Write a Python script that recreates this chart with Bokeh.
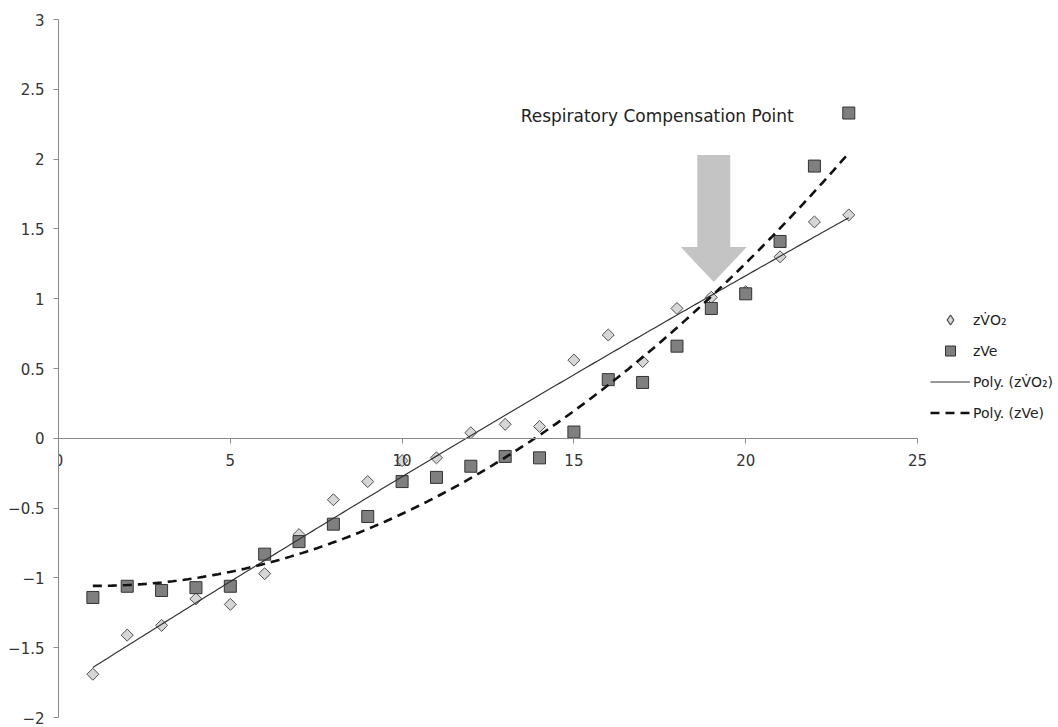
import numpy as np
from bokeh.plotting import figure
from bokeh.models import Range1d, FixedTicker, Legend, LegendItem, Label
from bokeh.embed import file_html
from bokeh.resources import INLINE

# ---- data ----
stage = list(range(1, 24))
z_vo2 = [-1.69, -1.41, -1.34, -1.15, -1.19, -0.97, -0.69, -0.44, -0.31, -0.16, -0.14,
         0.04, 0.10, 0.085, 0.56, 0.74, 0.55, 0.93, 1.01, 1.05, 1.30, 1.55, 1.60]
z_ve = [-1.14, -1.06, -1.09, -1.07, -1.06, -0.83, -0.74, -0.615, -0.56, -0.31, -0.28,
        -0.20, -0.13, -0.14, 0.045, 0.42, 0.40, 0.66, 0.93, 1.035, 1.41, 1.95, 2.33]
x_ticks = [0, 5, 10, 15, 20, 25]
y_ticks = [-2, -1.5, -1, -0.5, 0, 0.5, 1, 1.5, 2, 2.5, 3]
label_vo2 = "zV\u0307O\u2082"
label_ve = "zVe"
annotation_text = "Respiratory Compensation Point"

# arrow annotation (data units)
arrow_x = 19.07
arrow_top, arrow_neck, arrow_tip = 2.03, 1.37, 1.12
shaft_half, head_half = 0.48, 0.96

FONT = "DejaVu Sans"

# polynomial (order 2) trendlines fitted to the data, as in the original
xs = np.linspace(1, 23, 200)
fit_vo2 = np.polyval(np.polyfit(stage, z_vo2, 2), xs)
fit_ve = np.polyval(np.polyfit(stage, z_ve, 2), xs)

px_per_unit = (917 - 58) / 25.0
p = figure(width=1058, height=727, output_backend="svg", toolbar_location=None,
           x_range=Range1d(0, 1000 / px_per_unit), y_range=Range1d(-2, 3),
           min_border_left=58, min_border_right=0, min_border_top=19, min_border_bottom=10)
p.outline_line_color = None
p.grid.visible = False
p.background_fill_color = "white"
p.border_fill_color = "white"

# axes
p.xaxis.fixed_location = 0
p.xaxis.bounds = (0, 25)
p.xaxis.ticker = FixedTicker(ticks=x_ticks)
p.yaxis.ticker = FixedTicker(ticks=y_ticks)
p.yaxis.major_label_overrides = {t: (f"{t:g}".replace("-", "\u2212")) for t in y_ticks}
for ax in (p.xaxis, p.yaxis):
    ax.axis_line_color = "#8a8a8a"
    ax.major_tick_line_color = "#8a8a8a"
    ax.major_tick_out = 5
    ax.major_tick_in = 0
    ax.minor_tick_line_color = None
    ax.major_label_text_font = FONT
    ax.major_label_text_font_size = "15px"
    ax.major_label_text_color = "#333333"
p.yaxis.major_label_standoff = 9
p.xaxis.major_label_standoff = 11

# arrow
ax_poly = [arrow_x - shaft_half, arrow_x + shaft_half, arrow_x + shaft_half, arrow_x + head_half,
           arrow_x, arrow_x - head_half, arrow_x - shaft_half]
ay_poly = [arrow_top, arrow_top, arrow_neck, arrow_neck, arrow_tip, arrow_neck, arrow_neck]
p.patch(ax_poly, ay_poly, fill_color="#c4c4c4", line_color=None)

# legend key for the diamond symbol (legend glyphs ignore marker angle);
# drawn underneath the real diamonds so it is hidden in the plot itself
r_vo2_key = p.scatter(stage, z_vo2, marker="diamond", size=9, fill_color="#d6d6d6",
                      line_color="#505050", line_width=1.3)
r_vo2 = p.scatter(stage, z_vo2, marker="square", angle=np.pi / 4, size=8.5,
                  fill_color="#d6d6d6", line_color="#505050", line_width=1)
r_ve = p.scatter(stage, z_ve, marker="square", size=12,
                 fill_color="#7f7f7f", line_color="#333333", line_width=1)
r_fvo2 = p.line(xs, fit_vo2, line_color="#333333", line_width=1.2)
r_fve = p.line(xs, fit_ve, line_color="#111111", line_width=2.6, line_dash="9 6")

p.add_layout(Label(x=13.45, y=2.31, text=annotation_text, text_font=FONT,
                   text_font_size="17px", text_color="#222222", text_baseline="middle"))

legend = Legend(items=[
    LegendItem(label=label_vo2, renderers=[r_vo2_key]),
    LegendItem(label=label_ve, renderers=[r_ve]),
    LegendItem(label="Poly. (" + label_vo2 + ")", renderers=[r_fvo2]),
    LegendItem(label="Poly. (" + label_ve + ")", renderers=[r_fve]),
], location=(872, 292), padding=0, margin=0, spacing=6, glyph_width=40, glyph_height=25,
   label_height=25, label_standoff=3, label_text_font=FONT, label_text_font_size="14px",
   label_text_color="#222222", border_line_color=None, background_fill_alpha=0)
p.add_layout(legend)

open("out.html", "w").write(file_html(p, INLINE))
